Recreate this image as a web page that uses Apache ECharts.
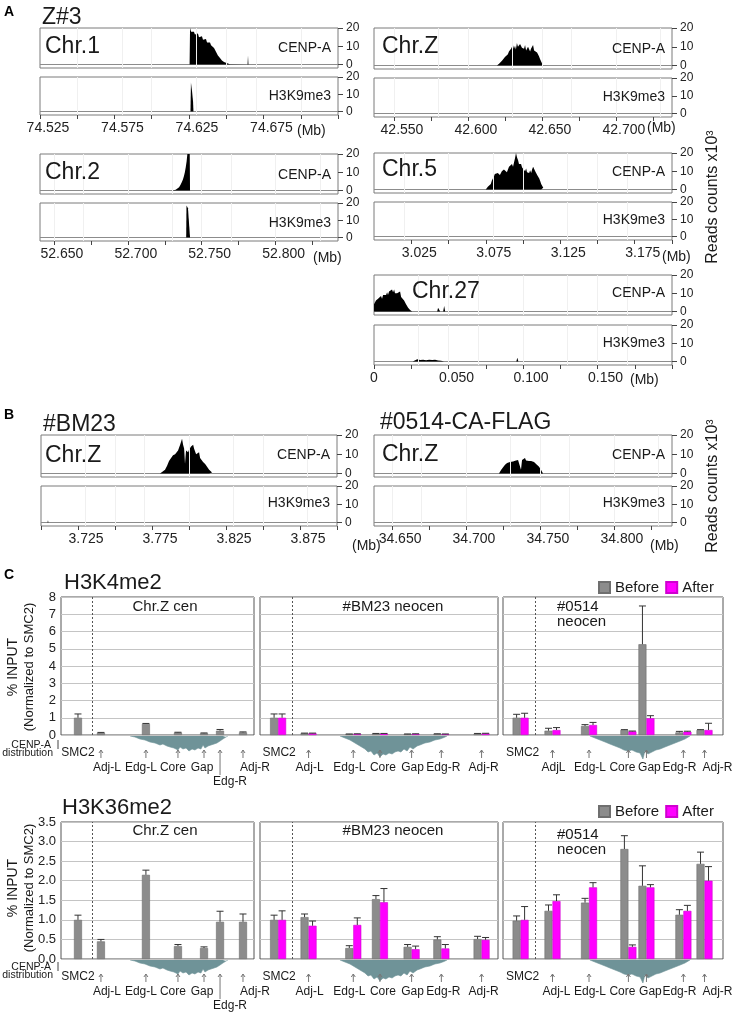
<!DOCTYPE html>
<html><head><meta charset="utf-8">
<script src="https://cdn.jsdelivr.net/npm/echarts@6/dist/echarts.min.js"></script>
<style>html,body{margin:0;padding:0;background:#fff}#c{width:734px;height:1012px}</style>
</head><body><div id="c"></div>
<script>
const FONT = '"Liberation Sans", Arial, Helvetica, sans-serif';

// ================= DATA =================
// Panels A / B : read counts (x10^3) along genomic position (Mb)
const trackYTicks = [0, 10, 20];

const chr1Window = [74.525, 74.725];
const chr1Ticks = [74.525, 74.55, 74.575, 74.6, 74.625, 74.65, 74.675, 74.7, 74.725];
const chr1TickLabels = [74.525, 74.575, 74.625, 74.675];
const chr1CenpA = [[74.6254,0],[74.6257,20],[74.6264,18],[74.6270,17],[74.6277,18.5],[74.6283,18],[74.6290,16.5],[74.6297,16],[74.6303,17],[74.6310,17],[74.6317,15],[74.6324,15],[74.6330,16],[74.6337,15.5],[74.6344,13.5],[74.6350,13.5],[74.6357,14.5],[74.6364,14],[74.6371,12],[74.6377,12],[74.6384,12.5],[74.6391,12],[74.6398,10.5],[74.6404,10],[74.6411,9.5],[74.6418,9],[74.6424,8],[74.6431,7],[74.6438,6],[74.6444,5],[74.6451,4.2],[74.6458,3.5],[74.6464,2.8],[74.6471,2.2],[74.6478,1.8],[74.6485,1.4],[74.6498,0.8],[74.6511,0.5],[74.6525,0.2],[74.6538,0],[74.6643,0],[74.6646,5],[74.6649,0]];
const chr1H3K9me3 = [[74.6260,0],[74.6263,17],[74.6270,12],[74.6277,6],[74.6280,0]];

const chr2Window = [52.6406, 52.8422];
const chr2Ticks = [52.65, 52.675, 52.7, 52.725, 52.75, 52.775, 52.8, 52.825];
const chr2TickLabels = [52.65, 52.7, 52.75, 52.8];
const chr2CenpA = [[52.7302,0],[52.7324,0.4],[52.7347,1.8],[52.7356,3],[52.7365,4.5],[52.7373,6],[52.7380,8],[52.7386,10],[52.7392,12.7],[52.7398,16],[52.7403,20],[52.7410,20],[52.7419,20],[52.7421,0]];
const chr2H3K9me3 = [[52.7395,0],[52.7397,18.5],[52.7407,17],[52.7417,16],[52.7421,0]];

const chrZWindow = [42.5365, 42.7379];
const chrZTicks = [42.55, 42.575, 42.6, 42.625, 42.65, 42.675, 42.7, 42.725];
const chrZTickLabels = [42.55, 42.6, 42.65, 42.7];
const chrZCenpA = [[42.6196,0],[42.6210,1],[42.6217,1.5],[42.6230,2.5],[42.6237,3],[42.6250,4.5],[42.6257,5],[42.6270,6],[42.6277,7.5],[42.6284,6.5],[42.6291,9],[42.6297,8],[42.6304,11],[42.6311,9],[42.6318,10.5],[42.6324,8.5],[42.6331,12],[42.6338,10],[42.6345,9],[42.6352,11.5],[42.6359,12],[42.6365,9.5],[42.6372,10.5],[42.6379,9],[42.6386,11],[42.6393,8],[42.6399,8.5],[42.6406,10],[42.6413,9.5],[42.6420,7.5],[42.6426,9],[42.6433,10],[42.6440,11],[42.6447,8],[42.6453,8.5],[42.6460,7],[42.6467,7],[42.6474,6],[42.6480,5],[42.6487,3.5],[42.6494,2.5],[42.6500,1.2],[42.6507,0]];
const chrZH3K9me3 = [];

const chr5Window = [3.0, 3.2];
const chr5Ticks = [3.025, 3.05, 3.075, 3.1, 3.125, 3.15, 3.175, 3.2];
const chr5TickLabels = [3.025, 3.075, 3.125, 3.175];
const chr5CenpA = [[3.0750,0],[3.0764,1.5],[3.0777,2.5],[3.0784,3],[3.0791,5],[3.0797,6],[3.0804,7],[3.0811,8.5],[3.0818,7.5],[3.0824,9],[3.0831,9],[3.0838,10],[3.0845,8],[3.0852,8],[3.0858,10],[3.0865,9.5],[3.0872,11],[3.0879,10],[3.0885,12],[3.0892,9.5],[3.0899,10],[3.0906,12.5],[3.0912,12],[3.0919,13],[3.0926,14],[3.0933,12.5],[3.0940,15],[3.0946,17],[3.0953,20],[3.0960,17.5],[3.0967,16],[3.0973,14],[3.0980,15],[3.0987,14],[3.0994,12],[3.1000,13],[3.1007,11],[3.1014,10],[3.1021,11.5],[3.1027,9.5],[3.1034,10],[3.1041,9],[3.1048,10.5],[3.1055,9],[3.1061,11],[3.1068,12.5],[3.1075,13],[3.1082,10],[3.1088,9],[3.1095,8],[3.1102,7],[3.1109,6],[3.1116,4.5],[3.1122,3],[3.1129,2],[3.1136,1],[3.1142,0]];
const chr5H3K9me3 = [];

const chr27Window = [0, 0.2];
const chr27Ticks = [0, 0.025, 0.05, 0.075, 0.1, 0.125, 0.15, 0.175, 0.2];
const chr27TickLabels = [0, 0.05, 0.1, 0.15];
const chr27CenpA = [[0,4],[0.0007,5],[0.0013,6],[0.0020,5.5],[0.0027,7],[0.0034,8],[0.0040,7],[0.0047,8.5],[0.0054,7],[0.0061,9],[0.0067,8],[0.0074,10],[0.0081,9],[0.0088,10.5],[0.0094,9],[0.0101,11],[0.0108,10],[0.0114,11],[0.0121,12],[0.0128,10.5],[0.0135,12],[0.0141,10],[0.0148,11],[0.0155,10],[0.0162,11],[0.0168,9.5],[0.0175,11],[0.0182,8],[0.0189,8.5],[0.0195,7],[0.0202,6],[0.0209,5],[0.0215,4],[0.0222,3],[0.0229,2],[0.0236,1.5],[0.0242,0.8],[0.0249,0.4],[0.0256,0],[0.0424,0],[0.0430,2],[0.0437,1.5],[0.0444,0],[0.0464,0],[0.0471,3],[0.0478,0]];
const chr27H3K9me3 = [[0,0],[0.001,0.6],[0.002,0],[0.026,0],[0.027,0.8],[0.029,1.2],[0.031,0.8],[0.033,1],[0.035,0.7],[0.037,1],[0.039,0.8],[0.041,1],[0.043,0.6],[0.045,0.4],[0.047,0],[0.0955,0],[0.0962,2],[0.0969,0]];

const bm23Window = [3.7, 3.9];
const bm23Ticks = [3.7, 3.725, 3.75, 3.775, 3.8, 3.825, 3.85, 3.875, 3.9];
const bm23TickLabels = [3.725, 3.775, 3.825, 3.875];
const bm23CenpA = [[3.7804,0],[3.7818,0.8],[3.7831,1.5],[3.7838,2],[3.7845,3],[3.7852,4],[3.7859,5],[3.7865,6.5],[3.7872,6],[3.7879,8],[3.7886,8],[3.7892,9.5],[3.7899,9],[3.7906,10],[3.7913,11],[3.7919,10],[3.7926,12],[3.7933,13],[3.7940,15],[3.7946,14],[3.7953,18],[3.7960,15],[3.7967,13],[3.7973,5],[3.7980,12],[3.7987,13],[3.7994,11],[3.8001,12.5],[3.8007,12],[3.8014,14],[3.8021,13],[3.8028,15],[3.8034,13],[3.8041,12],[3.8048,10],[3.8055,10],[3.8061,9],[3.8068,11],[3.8075,8],[3.8082,8],[3.8088,7],[3.8095,6],[3.8102,5.5],[3.8109,5],[3.8116,4],[3.8122,3.5],[3.8129,3],[3.8136,2],[3.8143,1.5],[3.8149,1],[3.8156,0.5],[3.8163,0]];
const bm23H3K9me3 = [[3.7044,0],[3.7047,1.2],[3.7050,0]];

const ca0514Window = [34.6378, 34.8393];
const ca0514Ticks = [34.65, 34.675, 34.7, 34.725, 34.75, 34.775, 34.8, 34.825];
const ca0514TickLabels = [34.65, 34.7, 34.75, 34.8];
const ca0514CenpA = [[34.7223,0],[34.7230,1],[34.7237,1.8],[34.7244,2.5],[34.7251,3.2],[34.7257,4],[34.7264,4.5],[34.7271,5.2],[34.7278,5.5],[34.7284,6],[34.7291,6.3],[34.7298,6],[34.7304,6.5],[34.7311,6.8],[34.7318,6.2],[34.7325,7],[34.7331,6.5],[34.7338,6.8],[34.7345,6.5],[34.7352,7],[34.7359,7.5],[34.7365,6.5],[34.7372,2],[34.7379,7],[34.7386,6.8],[34.7392,7.2],[34.7399,8],[34.7406,6.8],[34.7413,7],[34.7419,7],[34.7426,6.5],[34.7433,6.8],[34.7440,6.5],[34.7447,6.2],[34.7453,6],[34.7460,6],[34.7467,5.5],[34.7474,5],[34.7480,4.5],[34.7487,4],[34.7494,3.5],[34.7500,3],[34.7507,2],[34.7514,1],[34.7521,0]];
const ca0514H3K9me3 = [];

// Panel C : ChIP-qPCR, % INPUT normalized to SMC2
const primerNames = ['SMC2', 'Adj-L', 'Edg-L', 'Core', 'Gap', 'Edg-R', 'Adj-R'];
const primerNames0514Top = ['SMC2', 'AdjL', 'Edg-L', 'Core', 'Gap', 'Edg-R', 'Adj-R'];
// relative primer positions across each locus window (0-100)
const chrZCenPos = [8.8, 20.7, 44.0, 60.6, 74.1, 82.4, 94.3];
const bm23Pos = [7.6, 20.4, 39.2, 50.4, 63.7, 76.2, 93.1];
const ca0514Pos = [8.0, 22.5, 39.1, 57.0, 65.2, 82.0, 91.6];
const smc2Divider = [16.1, 15.1, 16.4];

const h3k4ChrZBefore = [1.0, 0.13, 0.64, 0.14, 0.1, 0.25, 0.15];
const h3k4ChrZBeforeErr = [0.22, 0.02, 0.03, 0.02, 0.02, 0.07, 0.03];
const h3k4Bm23Before = [1.0, 0.1, 0.05, 0.08, 0.05, 0.06, 0.08];
const h3k4Bm23BeforeErr = [0.22, 0.01, 0.01, 0.01, 0.01, 0.01, 0.01];
const h3k4Bm23After = [1.0, 0.1, 0.06, 0.08, 0.06, 0.05, 0.09];
const h3k4Bm23AfterErr = [0.22, 0.01, 0.01, 0.01, 0.01, 0.01, 0.01];
const h3k4Ca0514Before = [1.0, 0.25, 0.52, 0.29, 5.26, 0.15, 0.29];
const h3k4Ca0514BeforeErr = [0.2, 0.14, 0.08, 0.02, 2.22, 0.06, 0.02];
const h3k4Ca0514After = [1.0, 0.29, 0.58, 0.21, 0.97, 0.19, 0.29];
const h3k4Ca0514AfterErr = [0.26, 0.14, 0.15, 0.02, 0.15, 0.03, 0.39];

const h3k36ChrZBefore = [1.0, 0.45, 2.15, 0.33, 0.28, 0.95, 0.95];
const h3k36ChrZBeforeErr = [0.12, 0.05, 0.12, 0.04, 0.03, 0.27, 0.2];
const h3k36Bm23Before = [1.0, 1.07, 0.28, 1.53, 0.31, 0.5, 0.51];
const h3k36Bm23BeforeErr = [0.12, 0.08, 0.06, 0.09, 0.06, 0.07, 0.07];
const h3k36Bm23After = [1.0, 0.85, 0.87, 1.45, 0.25, 0.27, 0.49];
const h3k36Bm23AfterErr = [0.23, 0.12, 0.18, 0.35, 0.08, 0.1, 0.06];
const h3k36Ca0514Before = [0.98, 1.23, 1.44, 2.81, 1.87, 1.13, 2.43];
const h3k36Ca0514BeforeErr = [0.12, 0.15, 0.11, 0.34, 0.51, 0.13, 0.3];
const h3k36Ca0514After = [1.0, 1.48, 1.83, 0.31, 1.83, 1.23, 2.0];
const h3k36Ca0514AfterErr = [0.34, 0.16, 0.12, 0.05, 0.07, 0.14, 0.36];

// CENP-A distribution profiles under each locus (relative position, depth)
const cenpaProfChrZ = [[35.8,0],[38.3,1],[40.9,3],[43.5,4],[46.1,6],[48.7,7],[51.3,9],[52.8,8],[54.9,10],[56.5,11],[58.5,12],[60.6,14],[61.7,11],[63.2,13],[64.8,12],[66.3,15],[67.9,13],[69.4,14],[71.0,12],[72.5,13],[73.6,9],[74.6,12],[76.2,10],[77.7,9],[79.3,8],[80.8,7],[82.4,5],[83.9,3],[85.5,1],[86.5,0]];
const cenpaProfBm23 = [[33.6,0],[35.7,2],[37.8,4],[39.9,7],[42.0,10],[44.1,13],[45.4,16],[46.6,15],[47.9,19],[49.2,17],[50.4,21],[51.7,18],[52.9,19],[54.2,17],[55.5,18],[56.7,16],[58.0,15],[59.2,16],[60.5,13],[61.8,15],[63.0,11],[64.3,13],[66.0,10],[67.2,9],[69.3,7],[71.4,6],[73.5,4],[75.6,3],[77.3,1.5],[78.6,0]];
const cenpaProfCa0514 = [[39.5,0],[41.8,2],[44.1,4],[46.4,6],[48.6,8],[50.9,10],[53.2,12],[55.0,14],[56.8,15],[58.6,14],[60.5,16],[62.3,17],[63.6,23],[64.5,15],[65.9,18],[67.7,16],[69.5,14],[71.4,13],[73.6,11],[75.9,9],[78.2,7],[80.5,5],[82.7,3],[85.0,0]];

// ================= BUILD =================
const option = { animation: false, backgroundColor: '#fff', grid: [], xAxis: [], yAxis: [], series: [], graphic: [], legend: [] };
const TXT = '#1a1a1a';

function txt(text, x, y, size, align, extra) {
  option.graphic.push(Object.assign({ type: 'text', x: x, y: y, z: 100, silent: true,
    style: { text: text, font: size + 'px ' + FONT, fill: TXT, align: align || 'left', verticalAlign: 'middle' } }, extra || {}));
}
function fmtMb(v) { return Math.abs(v) < 1e-9 ? '{z|0}' : v.toFixed(3); }

function addTrack(def, lay) {
  const xmin = def.window[0], xmax = def.window[1];
  const inner = def.ticks.filter(function (t) { return t > xmin + 1e-6 && t < xmax - 1e-6; });
  const rows = [
    { data: def.cenpa, top: lay.top1, h: lay.h1, label: 'CENP-A', ly: lay.ly1, bottom: false },
    { data: def.h3, top: lay.top2, h: lay.h2, label: 'H3K9me3', ly: lay.ly2, bottom: true }
  ];
  rows.forEach(function (r) {
    const gi = option.grid.length;
    option.grid.push({ left: lay.left, top: r.top, width: lay.width, height: r.h, show: true, borderColor: '#7a7a7a', borderWidth: 1, backgroundColor: 'transparent' });
    option.xAxis.push({ type: 'value', gridIndex: gi, min: xmin, max: xmax,
      axisLine: { show: false, onZero: false }, splitLine: { show: false },
      axisTick: r.bottom ? { show: true, customValues: def.ticks, length: 4, lineStyle: { color: '#444' } } : { show: false },
      axisLabel: r.bottom ? { show: true, customValues: def.labels, formatter: fmtMb, fontSize: 14, color: '#222', fontFamily: FONT, margin: 6, padding: [0, 0, 0, 16],
        rich: { z: { fontSize: 14, fontFamily: FONT, color: '#222', padding: [0, 16, 0, 0] } } } : { show: false } });
    const yMin = -20 * 3.5 / (r.h - 3.5);
    option.yAxis.push({ type: 'value', gridIndex: gi, position: 'right', min: yMin, max: 20,
      axisLine: { show: false, onZero: false }, splitLine: { show: false },
      axisTick: { show: true, customValues: trackYTicks, length: 5, lineStyle: { color: '#444' } },
      axisLabel: { show: true, customValues: trackYTicks, fontSize: 12, color: '#222', fontFamily: FONT, margin: 8 } });
    // zero baseline with faint vertical guides (behind the signal)
    option.series.push({ type: 'line', xAxisIndex: gi, yAxisIndex: gi, data: [[xmin, 0], [xmax, 0]], symbol: 'none', silent: true, z: 1,
      lineStyle: { color: '#8c8c8c', width: 1 },
      markLine: { silent: true, symbol: 'none', label: { show: false }, animation: false,
        data: inner.map(function (t) { return { xAxis: t, lineStyle: { color: '#f0f0f0', width: 1, type: 'solid' } }; }) } });
    if (r.data.length) {
      option.series.push({ type: 'line', xAxisIndex: gi, yAxisIndex: gi, z: 3,
        data: r.data, symbol: 'none', showSymbol: false, silent: true,
        lineStyle: { opacity: 0, color: '#000' }, areaStyle: { color: '#000', opacity: 1, origin: 0 } });
    }
    txt(r.label, lay.left + lay.width - 7, r.ly, 14, 'right');
  });
  txt(def.name, lay.nameX, lay.nameY, 23, 'left');
  txt('(Mb)', lay.mbX, lay.mbY, 14, 'left');
}

const trackDefs = [
  { name: 'Chr.1', window: chr1Window, ticks: chr1Ticks, labels: chr1TickLabels, cenpa: chr1CenpA, h3: chr1H3K9me3 },
  { name: 'Chr.2', window: chr2Window, ticks: chr2Ticks, labels: chr2TickLabels, cenpa: chr2CenpA, h3: chr2H3K9me3 },
  { name: 'Chr.Z', window: chrZWindow, ticks: chrZTicks, labels: chrZTickLabels, cenpa: chrZCenpA, h3: chrZH3K9me3 },
  { name: 'Chr.5', window: chr5Window, ticks: chr5Ticks, labels: chr5TickLabels, cenpa: chr5CenpA, h3: chr5H3K9me3 },
  { name: 'Chr.27', window: chr27Window, ticks: chr27Ticks, labels: chr27TickLabels, cenpa: chr27CenpA, h3: chr27H3K9me3 },
  { name: 'Chr.Z', window: bm23Window, ticks: bm23Ticks, labels: bm23TickLabels, cenpa: bm23CenpA, h3: bm23H3K9me3 },
  { name: 'Chr.Z', window: ca0514Window, ticks: ca0514Ticks, labels: ca0514TickLabels, cenpa: ca0514CenpA, h3: ca0514H3K9me3 }
];
const trackLayout = [
  { left: 40, width: 298, top1: 28, h1: 40, top2: 77, h2: 38, ly1: 48, ly2: 96, nameX: 45, nameY: 47, mbX: 297, mbY: 131 },
  { left: 40, width: 298, top1: 154, h1: 40, top2: 203, h2: 38, ly1: 175, ly2: 223, nameX: 45, nameY: 173, mbX: 313, mbY: 258 },
  { left: 374, width: 298, top1: 28, h1: 41, top2: 78, h2: 39, ly1: 49, ly2: 97, nameX: 382, nameY: 47, mbX: 647, mbY: 128 },
  { left: 374, width: 298, top1: 153, h1: 40, top2: 202, h2: 38, ly1: 172, ly2: 220, nameX: 382, nameY: 170, mbX: 662, mbY: 257 },
  { left: 374, width: 298, top1: 275, h1: 40, top2: 325, h2: 40, ly1: 293, ly2: 343, nameX: 412, nameY: 292, mbX: 630, mbY: 380 },
  { left: 41, width: 296, top1: 435, h1: 42, top2: 486, h2: 40, ly1: 455, ly2: 503, nameX: 45, nameY: 456, mbX: 352, mbY: 546 },
  { left: 374, width: 298, top1: 435, h1: 42, top2: 486, h2: 40, ly1: 455, ly2: 503, nameX: 382, nameY: 455, mbX: 650, mbY: 546 }
];
trackDefs.forEach(function (d, i) { addTrack(d, trackLayout[i]); });

// ---- panel C ----
const GRAY = '#8c8c8c', MAG = '#ff00ff';
function errRender(offset) {
  return function (params, api) {
    const x = api.value(0), v = api.value(1), e = api.value(2);
    const p0 = api.coord([x, v]), p1 = api.coord([x, v + e]);
    const cx = p0[0] + offset;
    return { type: 'group', children: [
      { type: 'line', shape: { x1: cx, y1: p0[1], x2: cx, y2: p1[1] }, style: { stroke: '#333', lineWidth: 1 } },
      { type: 'line', shape: { x1: cx - 3.5, y1: p1[1], x2: cx + 3.5, y2: p1[1] }, style: { stroke: '#333', lineWidth: 1 } }
    ] };
  };
}
function labelRender(names, lay) {
  return function (params, api) {
    const i = params.dataIndex;
    const p = api.coord([api.value(0), 0]);
    const L = lay[i];
    const ch = [];
    if (L.row > 1) {
      const y1 = p[1] + 15, y2 = p[1] + (L.row === 3 ? 40 : 23);
      ch.push({ type: 'line', shape: { x1: p[0], y1: y1, x2: p[0], y2: y2 }, style: { stroke: '#777', lineWidth: 1 } });
      ch.push({ type: 'polyline', shape: { points: [[p[0] - 2, y1 + 3], [p[0], y1], [p[0] + 2, y1 + 3]] }, style: { stroke: '#777', fill: null, lineWidth: 1 } });
    }
    const ty = p[1] + (L.row === 1 ? 18 : (L.row === 2 ? 33 : 47));
    ch.push({ type: 'text', x: p[0] + L.dx, y: ty, style: { text: names[i], align: 'center', verticalAlign: 'middle', font: '12px ' + FONT, fill: TXT } });
    return { type: 'group', children: ch };
  };
}

function addBarPanel(c) {
  const gi = option.grid.length;
  option.grid.push({ left: c.left, top: c.top, width: c.width, height: c.height, show: true, borderColor: '#555', borderWidth: 1, backgroundColor: 'transparent' });
  option.xAxis.push({ type: 'value', gridIndex: gi, min: 0, max: 100, show: false });
  option.yAxis.push({ type: 'value', gridIndex: gi, min: 0, max: c.ymax, interval: c.interval,
    axisLine: { show: false, onZero: false }, axisTick: { show: false },
    splitLine: { show: true, lineStyle: { color: '#c4c4c4', width: 1 } },
    axisLabel: { show: c.showY, fontSize: 13, color: '#222', fontFamily: FONT, margin: 5, formatter: c.fmt } });
  const two = !!c.after;
  const mk = function (x) { return { silent: true, symbol: 'none', label: { show: false }, animation: false,
    data: [{ xAxis: x, lineStyle: { color: '#555', width: 1, type: [2, 2] } }] }; };
  option.series.push({ type: 'bar', name: 'Before', xAxisIndex: gi, yAxisIndex: gi, barWidth: 8, barGap: '0%',
    data: c.pos.map(function (x, i) { return [x, c.before[i]]; }),
    itemStyle: { color: GRAY, borderColor: '#6f6f6f', borderWidth: 0.6 }, markLine: mk(c.divider), z: 3 });
  option.series.push({ type: 'custom', name: 'errBefore', xAxisIndex: gi, yAxisIndex: gi, clip: false, z: 4,
    renderItem: errRender(two ? -4 : 0), encode: { x: 0, y: 1 },
    data: c.pos.map(function (x, i) { return [x, c.before[i], c.beforeErr[i]]; }) });
  if (two) {
    option.series.push({ type: 'bar', name: 'After', xAxisIndex: gi, yAxisIndex: gi, barWidth: 8, barGap: '0%',
      data: c.pos.map(function (x, i) { return [x, c.after[i]]; }),
      itemStyle: { color: MAG, borderColor: '#d000d0', borderWidth: 0.6 }, z: 3 });
    option.series.push({ type: 'custom', name: 'errAfter', xAxisIndex: gi, yAxisIndex: gi, clip: false, z: 4,
      renderItem: errRender(4), encode: { x: 0, y: 1 },
      data: c.pos.map(function (x, i) { return [x, c.after[i], c.afterErr[i]]; }) });
  }
  // CENP-A distribution profile below the box
  const pg = option.grid.length;
  option.grid.push({ left: c.left, top: c.top + c.height + 1, width: c.width, height: 26, show: false });
  option.xAxis.push({ type: 'value', gridIndex: pg, min: 0, max: 100, show: false });
  option.yAxis.push({ type: 'value', gridIndex: pg, min: 0, max: 26, inverse: true, show: false });
  option.series.push({ type: 'line', xAxisIndex: pg, yAxisIndex: pg, data: c.profile, symbol: 'none', silent: true, z: 2,
    lineStyle: { width: 0.6, color: '#6f9398' }, areaStyle: { color: '#6f9398', opacity: 1 } });
  // primer arrows + names
  option.series.push({ type: 'custom', name: 'primers', xAxisIndex: gi, yAxisIndex: gi, clip: false, z: 5, silent: true,
    renderItem: labelRender(c.names, c.labelLayout), encode: { x: 0, y: 1 },
    data: c.pos.map(function (x, i) { return [x, 0]; }) });
}

const layL = [{ dx: 0, row: 1 }, { dx: 6, row: 2 }, { dx: -5, row: 2 }, { dx: -5, row: 2 }, { dx: -2, row: 2 }, { dx: 10, row: 3 }, { dx: 12, row: 2 }];
const layM = [{ dx: 1, row: 1 }, { dx: 1, row: 2 }, { dx: -4, row: 2 }, { dx: 3, row: 2 }, { dx: 1, row: 2 }, { dx: 2, row: 2 }, { dx: 2, row: 2 }];
const layR = [{ dx: 2, row: 1 }, { dx: 1, row: 2 }, { dx: 1, row: 2 }, { dx: -6, row: 2 }, { dx: 3, row: 2 }, { dx: -4, row: 2 }, { dx: 13, row: 2 }];
const layRb = [{ dx: 2, row: 1 }, { dx: 4, row: 2 }, { dx: 1, row: 2 }, { dx: -6, row: 2 }, { dx: 4, row: 2 }, { dx: -4, row: 2 }, { dx: 13, row: 2 }];

const fmtInt = function (v) { return String(v); };
const fmt1 = function (v) { return v.toFixed(1); };
const rowTop = { top: 597, height: 138, ymax: 8, interval: 1, fmt: fmtInt };
const rowBot = { top: 822, height: 137, ymax: 3.5, interval: 0.5, fmt: fmt1 };
const cols = [{ left: 61, width: 193 }, { left: 260, width: 238 }, { left: 503, width: 220 }];

addBarPanel(Object.assign({}, rowTop, cols[0], { showY: true, pos: chrZCenPos, divider: smc2Divider[0], before: h3k4ChrZBefore, beforeErr: h3k4ChrZBeforeErr, profile: cenpaProfChrZ, names: primerNames, labelLayout: layL }));
addBarPanel(Object.assign({}, rowTop, cols[1], { showY: false, pos: bm23Pos, divider: smc2Divider[1], before: h3k4Bm23Before, beforeErr: h3k4Bm23BeforeErr, after: h3k4Bm23After, afterErr: h3k4Bm23AfterErr, profile: cenpaProfBm23, names: primerNames, labelLayout: layM }));
addBarPanel(Object.assign({}, rowTop, cols[2], { showY: false, pos: ca0514Pos, divider: smc2Divider[2], before: h3k4Ca0514Before, beforeErr: h3k4Ca0514BeforeErr, after: h3k4Ca0514After, afterErr: h3k4Ca0514AfterErr, profile: cenpaProfCa0514, names: primerNames0514Top, labelLayout: layR }));
addBarPanel(Object.assign({}, rowBot, cols[0], { showY: true, pos: chrZCenPos, divider: smc2Divider[0], before: h3k36ChrZBefore, beforeErr: h3k36ChrZBeforeErr, profile: cenpaProfChrZ, names: primerNames, labelLayout: layL }));
addBarPanel(Object.assign({}, rowBot, cols[1], { showY: false, pos: bm23Pos, divider: smc2Divider[1], before: h3k36Bm23Before, beforeErr: h3k36Bm23BeforeErr, after: h3k36Bm23After, afterErr: h3k36Bm23AfterErr, profile: cenpaProfBm23, names: primerNames, labelLayout: layM }));
addBarPanel(Object.assign({}, rowBot, cols[2], { showY: false, pos: ca0514Pos, divider: smc2Divider[2], before: h3k36Ca0514Before, beforeErr: h3k36Ca0514BeforeErr, after: h3k36Ca0514After, afterErr: h3k36Ca0514AfterErr, profile: cenpaProfCa0514, names: primerNames, labelLayout: layRb }));

[580, 804].forEach(function (t) {
  option.legend.push({ data: ['Before', 'After'], left: 598, top: t, padding: 0, itemWidth: 11, itemHeight: 11, itemGap: 6, icon: 'rect', selectedMode: false,
    textStyle: { fontSize: 15, fontFamily: FONT, color: TXT, padding: [0, 0, 0, 0] } });
});

// ---- texts ----
txt('A', 4, 12, 14, 'left', { style: { text: 'A', font: 'bold 14px ' + FONT, fill: '#000', verticalAlign: 'middle' } });
txt('B', 4, 415, 14, 'left', { style: { text: 'B', font: 'bold 14px ' + FONT, fill: '#000', verticalAlign: 'middle' } });
txt('C', 4, 575, 14, 'left', { style: { text: 'C', font: 'bold 14px ' + FONT, fill: '#000', verticalAlign: 'middle' } });
txt('Z#3', 42, 18, 23);
txt('#BM23', 43, 425, 23);
txt('#0514-CA-FLAG', 380, 423, 23);
txt('Reads counts x10³', 713, 197, 16, 'center', { rotation: Math.PI / 2 });
txt('Reads counts x10³', 713, 486, 16, 'center', { rotation: Math.PI / 2 });

txt('H3K4me2', 64, 583, 22);
txt('H3K36me2', 62, 808, 22);
[[607, 0], [831, 225]].forEach(function (r) {
  txt('Chr.Z cen', 165, r[0], 15, 'center');
  txt('#BM23 neocen', 393, r[0], 15, 'center');
});
txt('#0514', 557, 607, 15); txt('neocen', 557, 622, 15);
txt('#0514', 557, 835, 15); txt('neocen', 557, 850, 15);
[[667, 0], [888, 0]].forEach(function (r) {
  txt('% INPUT', 13, r[0], 14, 'center', { rotation: Math.PI / 2 });
  txt('(Normalized to SMC2)', 29, r[0], 13, 'center', { rotation: Math.PI / 2 });
});
[[745, 753, 740, 749], [967, 975, 962, 971]].forEach(function (r) {
  txt('CENP-A', 51, r[0], 10.5, 'right');
  txt('distribution', 53, r[1], 10.5, 'right');
  option.graphic.push({ type: 'line', z: 100, silent: true, shape: { x1: 58, y1: r[2], x2: 58, y2: r[3] }, style: { stroke: '#444', lineWidth: 1 } });
});

const chart = echarts.init(document.getElementById('c'), null, { renderer: 'canvas' });
chart.setOption(option);
</script>
</body></html>
